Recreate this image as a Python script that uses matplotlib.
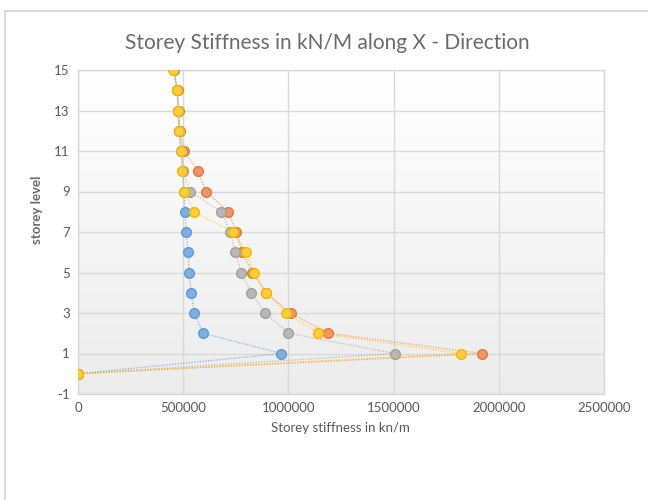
import matplotlib
matplotlib.use("Agg")
import matplotlib.pyplot as plt
import numpy as np
from matplotlib.lines import Line2D

plt.rcParams['font.family'] = ['Lato', 'DejaVu Sans']

levels = [0, 1, 2, 3, 4, 5, 6, 7, 8, 9, 10, 11, 12, 13, 14, 15]

series_names = ["Series1", "Series2", "Series3", "Series4"]
stiff_blue = [0, 967000, 595000, 552000, 538000, 528000, 524000, 514000,
              510000, 505000, 497000, 490000, 481000, 476000, 471000, 455000]
stiff_orange = [0, 1920000, 1190000, 1010000, 893000, 829000, 781000, 752000,
                714000, 609000, 571000, 505000, 483000, 478000, 473000, 455000]
stiff_gray = [0, 1505000, 1000000, 890000, 824000, 776000, 748000, 724000,
              681000, 533000, 500000, 492000, 482000, 477000, 472000, 455000]
stiff_yellow = [0, 1820000, 1143000, 990000, 895000, 838000, 800000, 738000,
                552000, 505000, 495000, 490000, 481000, 476000, 471000, 452000]

x_ticks = [0, 500000, 1000000, 1500000, 2000000, 2500000]
y_ticks = [-1, 1, 3, 5, 7, 9, 11, 13, 15]

faces = ["#7FAEE0", "#F0956A", "#B8B8B8", "#FFCB40"]
edges = ["#5B9BD5", "#E07A40", "#A0A0A0", "#F5B800"]
line_colors = ["#5B9BD5", "#ED7D31", "#A5A5A5", "#FFC000"]
text_gray = "#595959"
grid_gray = "#D9D9D9"

fig = plt.figure(figsize=(6.48, 5.00), dpi=100)
fig.patch.set_facecolor("white")

# chart outline (left and top edges visible)
fig.add_artist(Line2D([5 / 648, 5 / 648], [0, 1 - 11 / 500],
                      transform=fig.transFigure, color=grid_gray, lw=1.5))
fig.add_artist(Line2D([5 / 648, 1], [1 - 11 / 500, 1 - 11 / 500],
                      transform=fig.transFigure, color=grid_gray, lw=1.5))

ax = fig.add_axes([78 / 648, 106 / 500, (604 - 78) / 648, (394 - 70) / 500])

# plot-area gradient: white at top to light gray at bottom
grad = np.linspace(0, 1, 256).reshape(-1, 1)
cmap = matplotlib.colors.LinearSegmentedColormap.from_list(
    "pa", ["#ECECEC", "#FFFFFF"])
ax.imshow(grad, aspect="auto", cmap=cmap, origin="lower",
          extent=[0, 2500000, -1, 15], zorder=0)

ax.set_xlim(0, 2500000)
ax.set_ylim(-1, 15)
ax.set_xticks(x_ticks)
ax.set_yticks(y_ticks)
ax.set_xticklabels([str(v) for v in x_ticks])
ax.set_yticklabels([str(v) for v in y_ticks])
ax.grid(True, color=grid_gray, lw=1.0, zorder=1)
ax.set_axisbelow(True)
for sp in ax.spines.values():
    sp.set_color(grid_gray)
    sp.set_linewidth(1.0)
ax.tick_params(length=0, colors=text_gray, labelsize=9.5, pad=6)

all_series = [stiff_blue, stiff_orange, stiff_gray, stiff_yellow]
for i, (vals, name) in enumerate(zip(all_series, series_names)):
    ax.plot(vals, levels, linestyle=(0, (1, 1)), lw=1.0, color=line_colors[i],
            alpha=0.6, zorder=3 + i)
    ax.plot(vals, levels, linestyle="none", marker="o", markersize=7,
            markerfacecolor=faces[i], markeredgecolor=edges[i],
            markeredgewidth=1.0, zorder=3 + i, label=name)

fig.text(327 / 648, 1 - 43 / 500, "Storey Stiffness in kN/M along X - Direction",
         ha="center", va="center", fontsize=15, color="#6A6A6A")
fig.text(340 / 648, 1 - 428 / 500, "Storey stiffness in kn/m",
         ha="center", va="center", fontsize=9.5, color=text_gray)
fig.text(37 / 648, 1 - 210 / 500, "storey level", rotation=90,
         ha="center", va="center", fontsize=9.5, color="#6A6A6A",
         fontweight="bold")

fig.savefig("out.png", dpi=100)
